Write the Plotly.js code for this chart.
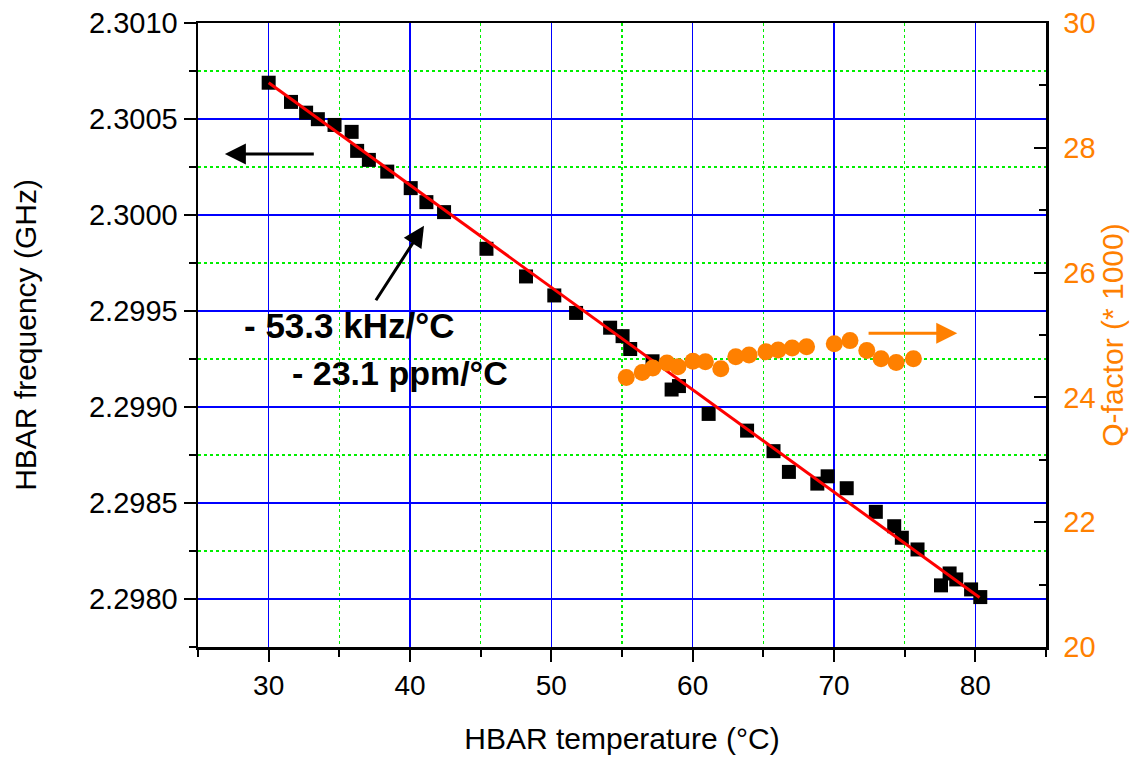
<!DOCTYPE html>
<html>
<head>
<meta charset="utf-8">
<script src="https://cdn.plot.ly/plotly-3.0.1.min.js"></script>
<style>html,body{margin:0;padding:0;background:#fff;}#chart{width:1135px;height:757px;}</style>
</head>
<body>
<div id="chart"></div>
<script>
// Frequency data (black squares)
const tempFreq = [30.00, 31.58, 32.65, 33.48, 34.66, 35.87, 36.26, 37.09, 38.39, 40.05, 41.16, 42.41,
  45.41, 48.21, 50.21, 51.75, 54.16, 55.04, 55.58, 57.16, 58.51, 59.03, 61.13, 63.85, 65.72, 66.81,
  68.82, 69.55, 70.90, 72.96, 74.26, 74.80, 75.91, 77.57, 78.18, 78.65, 79.70, 80.35];
const freqGHz = [2.300689, 2.300589, 2.300533, 2.300499, 2.300469, 2.300433, 2.300334, 2.300287, 2.300226, 2.300140, 2.300067, 2.300015,
  2.299824, 2.299680, 2.299581, 2.299490, 2.299413, 2.299369, 2.299302, 2.299238, 2.299091, 2.299109, 2.298964, 2.298877, 2.298770, 2.298662,
  2.298601, 2.298639, 2.298577, 2.298454, 2.298379, 2.298319, 2.298258, 2.298071, 2.298133, 2.298102, 2.298050, 2.298010];

// Linear fit (red line) end points
const fitX = [30.0, 80.3];
const fitY = [2.300689, 2.298008];

// Q-factor data (orange circles), in units of 1000
const tempQ = [55.30, 56.43, 57.18, 58.18, 58.96, 60.02, 60.90, 61.99, 63.05, 63.99, 65.18, 66.05,
  67.04, 68.06, 70.02, 71.13, 72.32, 73.33, 74.40, 75.62];
const qFactor = [24.32, 24.40, 24.47, 24.55, 24.49, 24.58, 24.57, 24.46, 24.65, 24.68, 24.73, 24.76,
  24.79, 24.81, 24.86, 24.91, 24.75, 24.62, 24.56, 24.62];

const ORANGE = '#FF8000';
const FONT = 'Liberation Sans, Arial, sans-serif';
const BLUE = '#0000FF';
const GREEN = '#00EE00';

const traces = [
  {x: tempFreq, y: freqGHz, type: 'scatter', mode: 'markers', xaxis: 'x', yaxis: 'y',
   marker: {symbol: 'square', size: 14, color: '#000000'}, name: 'frequency'},
  {x: fitX, y: fitY, type: 'scatter', mode: 'lines', xaxis: 'x', yaxis: 'y',
   line: {color: '#FF0000', width: 3}, name: 'fit'},
  {x: tempQ, y: qFactor, type: 'scatter', mode: 'markers', xaxis: 'x', yaxis: 'y2',
   marker: {symbol: 'circle', size: 17, color: ORANGE}, name: 'Q-factor'}
];

const layout = {
  width: 1135, height: 757,
  margin: {l: 198, r: 89, t: 23, b: 110, pad: 0},
  paper_bgcolor: '#ffffff', plot_bgcolor: '#ffffff',
  showlegend: false,
  font: {family: FONT, size: 28, color: '#000'},
  xaxis: {
    range: [25, 85], tick0: 30, dtick: 10, tickmode: 'linear',
    ticks: 'outside', ticklen: 12, tickwidth: 2, tickcolor: '#000',
    showline: true, linewidth: 2.5, linecolor: '#000', mirror: true,
    showgrid: true, gridcolor: BLUE, gridwidth: 1.3,
    zeroline: false,
    tickfont: {family: FONT, size: 28, color: '#000'},
    title: {text: 'HBAR temperature (°C)', font: {family: FONT, size: 30, color: '#000'}, standoff: 28},
    minor: {dtick: 5, tick0: 25, ticks: 'outside', ticklen: 7, tickwidth: 2, tickcolor: '#000',
            showgrid: true, gridcolor: GREEN, griddash: 'dot', gridwidth: 1.3}
  },
  yaxis: {
    range: [2.29775, 2.3010], tick0: 2.2980, dtick: 0.0005, tickmode: 'linear', tickformat: '.4f',
    ticks: 'outside', ticklen: 12, tickwidth: 2, tickcolor: '#000',
    showline: true, linewidth: 2.5, linecolor: '#000',
    showgrid: true, gridcolor: BLUE, gridwidth: 1.3,
    zeroline: false,
    tickfont: {family: FONT, size: 29, color: '#000'},
    title: {text: 'HBAR frequency (GHz)', font: {family: FONT, size: 30, color: '#000'}, standoff: 44},
    minor: {dtick: 0.00025, ticks: 'outside', ticklen: 7, tickwidth: 2, tickcolor: '#000',
            showgrid: true, gridcolor: GREEN, griddash: 'dot', gridwidth: 1.3}
  },
  yaxis2: {
    overlaying: 'y', side: 'right', anchor: 'x',
    range: [20, 30], tick0: 20, dtick: 2, tickmode: 'linear',
    ticks: 'inside', ticklen: 12, tickwidth: 2, tickcolor: '#000',
    showline: true, linewidth: 2.5, linecolor: '#000',
    showgrid: false, zeroline: false,
    ticklabelstandoff: 9,
    tickfont: {family: FONT, size: 29, color: ORANGE},
    title: {text: 'Q-factor (* 1000)', font: {family: FONT, size: 30, color: ORANGE}, standoff: 4},
    minor: {dtick: 1, ticks: 'inside', ticklen: 7, tickwidth: 2, tickcolor: '#000', showgrid: false}
  },
  annotations: [
    {x: 35.67, y: 2.299424, xref: 'x', yref: 'y', text: '<b>- 53.3 kHz/°C</b>', showarrow: false,
     xanchor: 'center', yanchor: 'middle', font: {family: FONT, size: 35, color: '#000'}},
    {x: 39.29, y: 2.299179, xref: 'x', yref: 'y', text: '<b>- 23.1 ppm/°C</b>', showarrow: false,
     xanchor: 'center', yanchor: 'middle', font: {family: FONT, size: 34, color: '#000'}},
    {x: 26.9, y: 2.300318, ax: 33.3, ay: 2.300318, xref: 'x', yref: 'y', axref: 'x', ayref: 'y',
     text: '', showarrow: true, arrowhead: 2, arrowsize: 1.4, arrowwidth: 3, arrowcolor: '#000'},
    {x: 40.99, y: 2.299944, ax: 37.52, ay: 2.299548, xref: 'x', yref: 'y', axref: 'x', ayref: 'y',
     text: '', showarrow: true, arrowhead: 2, arrowsize: 1.4, arrowwidth: 3, arrowcolor: '#000'},
    {x: 78.72, y: 25.03, ax: 72.34, ay: 25.03, xref: 'x', yref: 'y2', axref: 'x', ayref: 'y2',
     text: '', showarrow: true, arrowhead: 2, arrowsize: 1.4, arrowwidth: 3, arrowcolor: ORANGE}
  ]
};

Plotly.newPlot('chart', traces, layout, {displayModeBar: false, staticPlot: true});
</script>
</body>
</html>
